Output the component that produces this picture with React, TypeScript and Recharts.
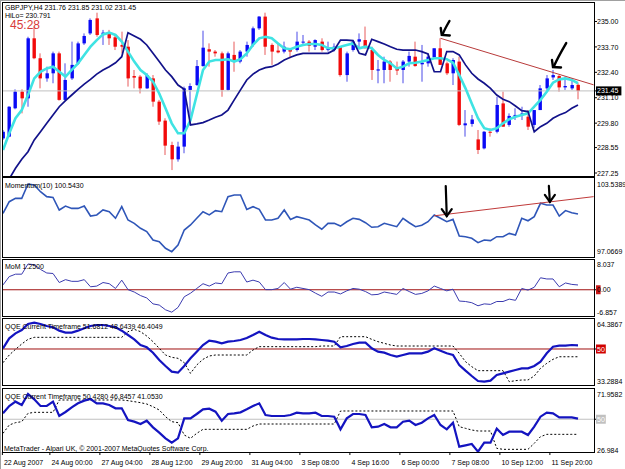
import React from "react"
import { ComposedChart, Bar, Line, XAxis, YAxis, ReferenceLine, ReferenceDot } from "recharts"

// GBPJPY H4 bars, index 0 = 22 Aug 2007 16:00
const opens = [229.02, 229.11, 230.56, 231.41, 231.07, 234.14, 233.12, 232.09, 232.35, 233.37, 230.99, 232.09, 232.86, 233.88, 234.39, 235.16, 234.34, 234.43, 234.19, 233.8, 233.71, 232.21, 232.18, 231.58, 232.09, 230.9, 229.93, 228.68, 227.95, 228.6, 231.5, 231.75, 232.72, 233.58, 233.46, 233.37, 231.5, 233.29, 232.95, 233.46, 233.8, 234.65, 235.25, 233.8, 233.51, 233.46, 233.63, 233.54, 233.92, 233.97, 233.71, 233.97, 233.54, 233.54, 233.71, 232.26, 233.54, 233.97, 234.05, 233.54, 232.49, 232.52, 232.95, 232.6, 232.52, 232.95, 233.2, 232.81, 232.86, 233.17, 233.63, 232.86, 232.35, 232.95, 229.69, 229.76, 228.97, 228.51, 229.36, 229.36, 230.81, 229.71, 230.13, 230.22, 230.13, 229.71, 230.47, 231.58, 232.14, 232.21, 231.63, 231.58, 231.76]
const highs = [229.45, 230.67, 231.53, 231.53, 234.22, 234.74, 233.37, 232.69, 233.46, 233.46, 232.86, 233.97, 233.97, 234.39, 235.16, 235.45, 234.57, 234.57, 234.31, 234.48, 234.05, 232.52, 232.26, 232.35, 232.26, 230.99, 230.05, 228.85, 228.85, 231.67, 231.84, 233.03, 234.53, 233.88, 233.54, 233.46, 233.46, 233.97, 233.54, 233.97, 234.74, 235.28, 235.45, 233.88, 233.88, 233.97, 233.63, 234.48, 234.31, 234.05, 234.09, 234.14, 233.97, 233.88, 233.75, 233.46, 234.05, 234.39, 234.74, 233.71, 233.03, 233.2, 233.03, 232.95, 233.03, 233.46, 233.97, 233.8, 233.37, 233.63, 234.14, 232.95, 233.12, 233.2, 230.47, 230.22, 229.45, 229.4, 229.54, 231.15, 231.41, 230.3, 230.56, 230.64, 230.47, 230.47, 231.75, 232.26, 232.52, 232.26, 232.18, 232.09, 231.85]
const lows = [228.94, 229.08, 230.51, 230.3, 230.64, 233.07, 231.58, 231.92, 231.84, 230.95, 230.95, 232.01, 232.78, 233.8, 234.31, 234.22, 233.8, 233.8, 233.54, 233.37, 231.67, 231.58, 231.32, 231.55, 230.64, 229.71, 228.17, 227.4, 227.83, 228.26, 229.71, 231.7, 232.69, 232.69, 233.2, 231.15, 231.46, 232.43, 232.86, 233.2, 233.71, 234.57, 233.29, 232.78, 233.37, 233.37, 233.12, 233.46, 233.8, 233.46, 233.54, 233.46, 233.46, 233.46, 232.18, 231.92, 233.46, 233.63, 233.63, 232.01, 231.84, 231.84, 231.92, 232.26, 231.84, 232.69, 232.69, 231.92, 232.69, 233.12, 232.78, 232.26, 231.75, 229.65, 229.11, 229.62, 228.22, 228.46, 229.11, 229.28, 229.62, 229.62, 229.96, 229.96, 229.45, 229.54, 230.47, 231.5, 232.01, 231.41, 231.5, 231.5, 231.02]
const closes = [229.36, 230.64, 231.41, 231.07, 234.14, 233.12, 232.09, 232.35, 233.37, 230.99, 232.01, 232.78, 233.88, 234.26, 235.08, 234.31, 234.43, 234.14, 233.71, 233.71, 232.09, 232.13, 231.58, 232.26, 230.9, 229.88, 228.65, 227.95, 228.6, 231.58, 231.7, 232.72, 233.66, 233.46, 233.37, 231.5, 233.37, 232.95, 233.46, 233.8, 234.65, 235.25, 233.71, 233.46, 233.42, 233.71, 233.46, 233.97, 233.97, 233.76, 234.05, 233.54, 233.63, 233.71, 232.26, 233.37, 233.97, 234.09, 233.63, 232.52, 232.55, 232.95, 232.52, 232.49, 232.95, 233.24, 232.72, 232.89, 233.2, 233.63, 232.78, 232.35, 233.03, 229.71, 229.79, 229.99, 228.43, 229.36, 229.31, 230.73, 229.62, 230.17, 230.22, 230.3, 229.62, 230.47, 231.58, 232.09, 232.26, 231.63, 231.7, 231.75, 231.45]
const hiloFast = [228.43, 229.28, 230.05, 230.47, 231.24, 232.09, 232.43, 232.6, 232.69, 232.43, 232.18, 232.52, 232.86, 233.29, 233.71, 234.05, 234.34, 234.43, 234.31, 233.97, 233.46, 232.95, 232.52, 232.26, 231.92, 231.32, 230.56, 229.79, 229.28, 229.28, 229.96, 231.24, 232.52, 232.95, 233.03, 233.03, 233.07, 232.95, 233.07, 233.37, 233.8, 234.14, 234.22, 234.14, 233.88, 233.63, 233.58, 233.71, 233.8, 233.85, 233.85, 233.8, 233.63, 233.63, 233.71, 233.8, 233.88, 233.63, 233.71, 233.63, 233.29, 233.03, 232.86, 232.6, 232.69, 232.86, 232.89, 232.95, 233.03, 233.12, 233.12, 233.07, 232.89, 232.26, 231.58, 230.81, 230.05, 229.54, 229.45, 229.54, 229.79, 230.0, 230.13, 230.22, 230.3, 230.64, 230.99, 231.41, 231.87, 232.04, 232.09, 232.01, 231.84]
const hiloSlow = [226.4, 226.95, 227.49, 227.95, 228.34, 228.94, 229.36, 229.79, 230.22, 230.64, 230.95, 231.24, 231.53, 231.8, 232.04, 232.31, 232.52, 232.69, 232.89, 233.2, 234.43, 234.26, 234.09, 233.8, 233.37, 232.95, 232.52, 232.18, 231.75, 231.53, 229.71, 229.76, 229.83, 229.96, 230.1, 230.22, 230.47, 230.99, 231.5, 232.01, 232.31, 232.52, 232.64, 232.69, 232.83, 233.03, 233.17, 233.29, 233.37, 233.37, 233.37, 233.37, 233.37, 233.54, 234.05, 234.05, 234.02, 233.37, 233.29, 234.09, 233.97, 233.85, 233.71, 233.58, 233.54, 233.54, 233.54, 233.46, 233.34, 232.43, 232.43, 233.46, 233.46, 233.29, 232.78, 232.35, 232.06, 231.84, 231.58, 231.24, 231.02, 230.9, 230.68, 230.44, 230.39, 229.36, 229.62, 229.79, 230.05, 230.22, 230.34, 230.56, 230.73]

const momentum = [100.6, 101.54, 101.81, 101.81, 102.97, 102.89, 102.35, 101.95, 101.89, 100.87, 101.19, 101.0, 101.0, 101.19, 100.38, 100.47, 100.87, 100.73, 100.2, 101.14, 100.06, 99.79, 99.39, 99.12, 98.44, 98.31, 97.77, 97.5, 98.04, 99.25, 99.66, 100.2, 100.73, 100.47, 100.82, 100.73, 101.95, 102.08, 102.08, 100.92, 101.14, 100.92, 100.06, 100.06, 100.2, 100.87, 100.11, 100.33, 100.2, 100.06, 99.66, 99.31, 99.79, 99.79, 99.57, 99.92, 100.2, 100.11, 99.84, 99.47, 99.52, 99.79, 99.66, 99.52, 100.2, 99.84, 99.52, 99.63, 99.92, 100.47, 100.2, 99.92, 100.11, 98.77, 98.71, 98.58, 98.23, 98.44, 98.39, 98.71, 98.71, 98.98, 98.85, 100.2, 100.0, 100.33, 101.41, 101.27, 101.27, 100.38, 100.82, 100.65, 100.54]
const mom = [1.27, 3.44, 4.07, 4.07, 6.73, 6.55, 5.31, 4.38, 4.25, 1.89, 2.64, 2.2, 2.2, 2.64, 0.78, 0.96, 1.89, 1.58, 0.34, 2.51, 0.03, -0.59, -1.52, -2.14, -3.69, -4.0, -5.24, -5.86, -4.62, -1.83, -0.9, 0.34, 1.58, 0.96, 1.77, 1.58, 4.38, 4.69, 4.69, 2.02, 2.51, 2.02, 0.03, 0.03, 0.34, 1.89, 0.15, 0.65, 0.34, 0.03, -0.9, -1.71, -0.59, -0.59, -1.09, -0.28, 0.34, 0.15, -0.47, -1.33, -1.21, -0.59, -0.9, -1.21, 0.34, -0.47, -1.21, -0.96, -0.28, 0.96, 0.34, -0.28, 0.15, -2.95, -3.07, -3.38, -4.19, -3.69, -3.82, -3.07, -3.07, -2.45, -2.76, 0.34, -0.09, 0.65, 3.13, 2.82, 2.82, 0.78, 1.77, 1.4, 1.25]

const qqe1Rsi = [50.31, 54.95, 57.27, 58.82, 61.6, 62.22, 61.6, 60.67, 60.05, 58.51, 57.58, 57.58, 58.51, 59.59, 60.67, 61.14, 61.14, 60.67, 60.05, 58.51, 56.5, 54.48, 51.85, 50.77, 48.29, 44.89, 42.11, 39.47, 39.01, 42.11, 45.67, 48.76, 51.85, 53.87, 53.4, 52.63, 53.4, 53.71, 54.17, 55.1, 56.5, 58.04, 56.5, 55.26, 54.64, 54.48, 54.48, 54.48, 54.64, 54.64, 54.48, 54.17, 53.87, 53.4, 50.77, 51.39, 52.32, 52.94, 52.94, 50.31, 48.76, 48.29, 47.21, 46.44, 47.21, 47.99, 47.99, 47.99, 48.76, 50.31, 49.22, 47.99, 47.21, 42.57, 39.94, 37.47, 35.14, 34.83, 35.3, 37.93, 38.7, 39.47, 40.25, 41.02, 41.02, 42.11, 44.12, 47.99, 51.08, 51.54, 51.54, 51.85, 51.68]
const qqe1Trail = [43.65, 47.21, 49.84, 52.32, 54.48, 55.41, 55.41, 55.41, 55.41, 55.41, 55.41, 55.41, 55.41, 55.41, 55.41, 55.41, 55.41, 55.41, 55.41, 55.41, 58.04, 59.12, 58.04, 56.03, 53.4, 50.31, 47.21, 46.13, 45.67, 43.65, 38.7, 42.57, 45.2, 46.75, 47.21, 47.21, 47.21, 47.21, 47.21, 47.21, 49.53, 51.08, 51.08, 51.08, 51.08, 51.08, 51.08, 51.08, 51.08, 51.08, 51.08, 51.39, 51.39, 51.39, 55.72, 55.72, 55.72, 55.72, 55.72, 54.48, 53.4, 52.63, 51.85, 51.39, 51.39, 51.39, 51.39, 51.39, 51.39, 51.39, 51.39, 51.39, 51.39, 47.99, 44.12, 41.8, 39.94, 39.94, 39.94, 39.94, 39.94, 34.83, 35.3, 35.61, 35.61, 37.47, 41.02, 43.34, 45.2, 46.4, 46.4, 46.4, 46.4]
const qqe2Rsi = [54.16, 59.31, 62.36, 60.01, 67.74, 64.0, 59.31, 59.31, 62.36, 52.28, 55.09, 58.37, 61.18, 63.06, 64.23, 61.18, 61.18, 60.01, 57.67, 57.67, 49.47, 48.3, 46.66, 49.0, 44.32, 40.57, 36.59, 33.54, 36.59, 50.64, 50.64, 53.69, 56.97, 57.43, 55.33, 49.0, 53.69, 54.16, 54.86, 56.97, 59.31, 61.18, 52.98, 52.28, 52.28, 52.28, 52.98, 54.62, 54.16, 54.16, 54.62, 52.28, 52.28, 51.81, 42.91, 50.64, 53.69, 53.69, 52.98, 44.32, 44.78, 46.66, 44.32, 44.32, 48.3, 49.0, 45.96, 47.6, 50.64, 52.98, 45.96, 42.91, 47.6, 30.73, 31.67, 32.6, 27.22, 33.54, 33.54, 43.38, 38.93, 41.27, 41.27, 41.27, 38.93, 44.78, 51.81, 54.62, 54.16, 51.35, 51.35, 51.35, 50.43]
const qqe2Trail = [40.1, 45.96, 47.6, 48.3, 54.16, 54.86, 54.86, 54.86, 54.86, 63.53, 63.53, 63.53, 63.53, 63.53, 63.53, 63.53, 63.53, 63.53, 63.53, 63.53, 63.06, 62.36, 61.65, 60.71, 58.84, 56.5, 51.81, 48.3, 47.6, 38.93, 36.59, 40.1, 42.91, 42.91, 42.91, 42.91, 42.91, 42.91, 42.91, 42.91, 45.25, 46.66, 46.66, 46.66, 46.66, 46.66, 46.66, 46.66, 46.66, 46.66, 46.66, 46.66, 46.66, 46.66, 55.8, 55.8, 55.8, 55.8, 55.8, 55.8, 55.8, 55.8, 55.8, 55.8, 55.8, 55.8, 55.8, 55.8, 55.8, 55.8, 55.8, 55.8, 55.8, 44.78, 43.61, 42.44, 41.74, 41.74, 41.74, 29.56, 28.86, 28.86, 28.86, 28.86, 28.86, 33.07, 37.76, 39.4, 39.4, 39.4, 39.4, 39.4, 39.4]

const timeLabels = ["22 Aug 2007", "24 Aug 00:00", "27 Aug 04:00", "28 Aug 12:00", "29 Aug 20:00", "31 Aug 04:00", "3 Sep 08:00", "4 Sep 16:00", "6 Sep 00:00", "7 Sep 08:00", "10 Sep 12:00", "11 Sep 20:00"]
const timeTicks = [-0.1, 7.5, 15.5, 23.5, 31.5, 39.5, 47.5, 55.5, 63.5, 71.5, 79.5, 87.5]
const priceTicks = [235.0, 233.7, 232.4, 231.1, 229.8, 228.55, 227.25]
const lastPrice = 231.45

const data = closes.map((c, i) => ({
  i,
  open: opens[i],
  high: highs[i],
  low: lows[i],
  close: c,
  range: [lows[i], highs[i]],
  fast: hiloFast[i],
  slow: hiloSlow[i],
  momentum: momentum[i],
  mom: mom[i],
  qqe1: qqe1Rsi[i],
  qqe1t: qqe1Trail[i],
  qqe2: qqe2Rsi[i],
  qqe2t: qqe2Trail[i],
}))

const W = 625
const X_DOMAIN: [number, number] = [-0.16, 94.56]
const FONT = "Liberation Sans, Arial, sans-serif"
const MARGIN = { top: 0, right: 0, bottom: 0, left: 2 }

function Candle(props: any) {
  const { x, y, width, height, payload } = props
  if (y == null || height == null) return null
  const { open, close, high, low } = payload
  const up = close >= open
  const span = high - low || 1
  const yOf = (v: number) => y + ((high - v) / span) * height
  const top = yOf(Math.max(open, close))
  const bot = yOf(Math.min(open, close))
  const cx = Math.round(x + width / 2)
  const color = up ? "#0a0af5" : "#f20a0a"
  const wick = up ? "#4a4ae8" : "#e85a5a"
  return (
    <g>
      <line x1={cx} x2={cx} y1={y} y2={y + height} stroke={wick} strokeWidth={1} />
      <rect x={cx - 1.5} y={top} width={3.4} height={Math.max(bot - top, 1)} fill={color} />
    </g>
  )
}

type TickSpec = { value: number; label: string; dy?: number; bg?: string; bgWidth?: number; fg?: string; mark?: boolean }

function makeTick(specs: TickSpec[]) {
  return function AxisTick(props: any) {
    const { x, y, payload } = props
    const s = specs.find((t) => Math.abs(t.value - payload.value) < 1e-6)
    if (!s) return null
    const ty = y + (s.dy || 0)
    const w = s.bgWidth || s.label.length * 3.9 + 2
    return (
      <g>
        {s.mark && <line x1={x} x2={x + 3} y1={y} y2={y} stroke="#000" />}
        {s.bg && <rect x={x + 2} y={ty - 4.5} width={w} height={9} fill={s.bg} />}
        <text x={x + 3} y={ty + 2.6} fontSize={7} fontFamily={FONT} fill={s.fg || "#000"}>
          {s.label}
        </text>
      </g>
    )
  }
}

function TimeTick(props: any) {
  const { x, y, index } = props
  return (
    <g>
      <line x1={x} x2={x} y1={y} y2={y + 3} stroke="#000" />
      <text x={x + 1.5} y={y + 13} fontSize={7} fontFamily={FONT} fill="#000">
        {timeLabels[index]}
      </text>
    </g>
  )
}

function ArrowDownLeft({ cx, cy, len }: { cx: number; cy: number; len: number }) {
  return (
    <g fill="none" stroke="#000" strokeWidth={2.4} strokeLinecap="round">
      <path d={`M ${cx + len * 0.55} ${cy - len} Q ${cx + len * 0.2} ${cy - len * 0.4} ${cx + 1} ${cy - 1}`} />
      <path d={`M ${cx - 1} ${cy - 7} L ${cx} ${cy} L ${cx + 8} ${cy + 0.5}`} />
    </g>
  )
}

function ArrowDown({ cx, cy, len }: { cx: number; cy: number; len: number }) {
  return (
    <g fill="none" stroke="#000" strokeWidth={2.2} strokeLinecap="round">
      <path d={`M ${cx - 1} ${cy - len} L ${cx} ${cy}`} />
      <path d={`M ${cx - 5} ${cy - 7} L ${cx} ${cy} L ${cx + 5} ${cy - 7}`} />
    </g>
  )
}

function Panel({ top, height, children }: { top: number; height: number; children: React.ReactNode }) {
  return (
    <div style={{ position: "absolute", left: 0, top, width: W, height }}>
      {children}
      <div
        style={{
          position: "absolute",
          left: 2,
          top: 0,
          width: 593,
          height: height + 1,
          border: "1px solid #000",
          boxSizing: "border-box",
          pointerEvents: "none",
        }}
      />
    </div>
  )
}

const mainTick = makeTick([
  ...priceTicks.map((v) => ({ value: v, label: v.toFixed(2), mark: true })),
  { value: lastPrice, label: lastPrice.toFixed(2), bg: "#000", fg: "#fff", mark: true },
])
const momTick = makeTick([
  { value: 103.5389, label: "103.5389", dy: 7 },
  { value: 97.0669, label: "97.0669", dy: -6 },
])
const moTick = makeTick([
  { value: 8.037, label: "8.037", dy: 5 },
  { value: 0, label: "0.00", bg: "#c81818", bgWidth: 4.6, fg: "#000", mark: true },
  { value: -6.857, label: "-6.857", dy: -4 },
])
const q1Tick = makeTick([
  { value: 64.3867, label: "64.3867", dy: 6 },
  { value: 50, label: "50", bg: "#d00000", fg: "#fff", mark: true },
  { value: 33.2884, label: "33.2884", dy: -4 },
])
const q2Tick = makeTick([
  { value: 71.9582, label: "71.9582", dy: 6 },
  { value: 50, label: "50", bg: "#c0c0c0", fg: "#fff", mark: true },
  { value: 26.984, label: "26.984", dy: -2 },
])

function HiddenX() {
  return <XAxis dataKey="i" type="number" domain={X_DOMAIN} allowDataOverflow hide />
}

export default function App() {
  return (
    <div style={{ position: "absolute", left: 0, top: 0, width: W, height: 469, background: "#fff", overflow: "hidden", fontFamily: FONT }}>
      <div style={{ position: "absolute", left: 0, top: 0, width: W, height: 1, background: "#a0a0a0" }} />
      <div style={{ position: "absolute", left: 0, top: 0, width: 1, height: 469, background: "#a0a0a0" }} />

      <Panel top={2} height={174}>
        <ComposedChart width={W} height={174} data={data} margin={MARGIN}>
          {HiddenX()}
          <YAxis orientation="right" width={31} domain={[227.097, 235.997]} allowDataOverflow ticks={[...priceTicks, lastPrice]} interval={0} tick={mainTick} tickSize={0} tickMargin={0} tickLine={false} axisLine={false} />
          <ReferenceLine y={lastPrice} stroke="#c0c0c0" strokeWidth={1} />
          <Bar dataKey="range" barSize={4} shape={<Candle />} isAnimationActive={false} />
          <Line dataKey="fast" type="linear" stroke="#3fe3e3" strokeWidth={2.6} dot={false} isAnimationActive={false} />
          <Line dataKey="slow" type="linear" stroke="#12128a" strokeWidth={1.7} dot={false} isAnimationActive={false} />
          <ReferenceLine segment={[{ x: 70, y: 234.14 }, { x: 94.5, y: 231.76 }]} stroke="#b83a3a" strokeWidth={1} ifOverflow="visible" />
          <ReferenceDot x={70.2} y={234.31} r={0} ifOverflow="visible" shape={(p: any) => <ArrowDownLeft cx={p.cx} cy={p.cy} len={14} />} />
          <ReferenceDot x={88} y={232.67} r={0} ifOverflow="visible" shape={(p: any) => <ArrowDownLeft cx={p.cx} cy={p.cy} len={24} />} />
        </ComposedChart>
      </Panel>

      <Panel top={177} height={80}>
        <ComposedChart width={W} height={80} data={data} margin={MARGIN}>
          {HiddenX()}
          <YAxis orientation="right" width={31} domain={[97.0669, 103.5389]} allowDataOverflow ticks={[103.5389, 97.0669]} interval={0} tick={momTick} tickSize={0} tickMargin={0} tickLine={false} axisLine={false} />
          <Line dataKey="momentum" type="linear" stroke="#2f56b8" strokeWidth={1.6} dot={false} isAnimationActive={false} />
          <ReferenceLine segment={[{ x: 69, y: 100.4 }, { x: 94.5, y: 101.95 }]} stroke="#c03a3a" strokeWidth={1} ifOverflow="visible" />
          <ReferenceDot x={71} y={100.38} r={0} ifOverflow="visible" shape={(p: any) => <ArrowDown cx={p.cx} cy={p.cy} len={30} />} />
          <ReferenceDot x={87.5} y={101.52} r={0} ifOverflow="visible" shape={(p: any) => <ArrowDown cx={p.cx} cy={p.cy} len={16} />} />
        </ComposedChart>
      </Panel>

      <Panel top={259} height={57}>
        <ComposedChart width={W} height={57} data={data} margin={MARGIN}>
          {HiddenX()}
          <YAxis orientation="right" width={31} domain={[-6.857, 8.037]} allowDataOverflow ticks={[8.037, 0, -6.857]} interval={0} tick={moTick} tickSize={0} tickMargin={0} tickLine={false} axisLine={false} />
          <ReferenceLine y={0} stroke="#a01010" strokeWidth={1} />
          <Line dataKey="mom" type="linear" stroke="#3b3bb0" strokeWidth={1} dot={false} isAnimationActive={false} />
        </ComposedChart>
      </Panel>

      <Panel top={318} height={67}>
        <ComposedChart width={W} height={67} data={data} margin={MARGIN}>
          {HiddenX()}
          <YAxis orientation="right" width={31} domain={[33.2884, 64.3867]} allowDataOverflow ticks={[64.3867, 50, 33.2884]} interval={0} tick={q1Tick} tickSize={0} tickMargin={0} tickLine={false} axisLine={false} />
          <ReferenceLine y={50} stroke="#a01010" strokeWidth={1} />
          <Line dataKey="qqe1t" type="linear" stroke="#000" strokeWidth={1} strokeDasharray="2 2" dot={false} isAnimationActive={false} />
          <Line dataKey="qqe1" type="linear" stroke="#1414c0" strokeWidth={2.2} dot={false} isAnimationActive={false} />
        </ComposedChart>
      </Panel>

      <Panel top={388} height={64}>
        <ComposedChart width={W} height={81} data={data} margin={MARGIN}>
          <XAxis dataKey="i" type="number" domain={X_DOMAIN} allowDataOverflow ticks={timeTicks} interval={0} tick={<TimeTick />} tickSize={0} tickMargin={0} tickLine={false} axisLine={false} height={17} />
          <YAxis orientation="right" width={31} domain={[26.984, 71.9582]} allowDataOverflow ticks={[71.9582, 50, 26.984]} interval={0} tick={q2Tick} tickSize={0} tickMargin={0} tickLine={false} axisLine={false} />
          <ReferenceLine y={50} stroke="#c0c0c0" strokeWidth={1} />
          <Line dataKey="qqe2t" type="linear" stroke="#000" strokeWidth={1} strokeDasharray="2 2" dot={false} isAnimationActive={false} />
          <Line dataKey="qqe2" type="linear" stroke="#1414c0" strokeWidth={2.2} dot={false} isAnimationActive={false} />
        </ComposedChart>
      </Panel>

      <svg width={W} height={469} style={{ position: "absolute", left: 0, top: 0, pointerEvents: "none" }}>
        <g fontFamily={FONT} fontSize={7} fill="#000">
          <text x={5} y={10}>GBPJPY,H4  231.76 231.85 231.02 231.45</text>
          <text x={5} y={17.5}>HiLo= 230.791</text>
          <text x={5} y={187.5}>Momentum(10) 100.5430</text>
          <text x={5} y={269}>MoM  1.2500</text>
          <text x={5} y={328.5}>QQE Current Timeframe 51.6812 48.6439 46.4049</text>
          <text x={5} y={398.5}>QQE Current Timeframe 50.4280 46.8457 41.0530</text>
          <text x={4} y={450.5}>MetaTrader - Alpari UK, © 2001-2007 MetaQuotes Software Corp.</text>
        </g>
        <text x={10} y={29} fontFamily={FONT} fontSize={12} fill="#d83a3a">45:28</text>
      </svg>
    </div>
  )
}
